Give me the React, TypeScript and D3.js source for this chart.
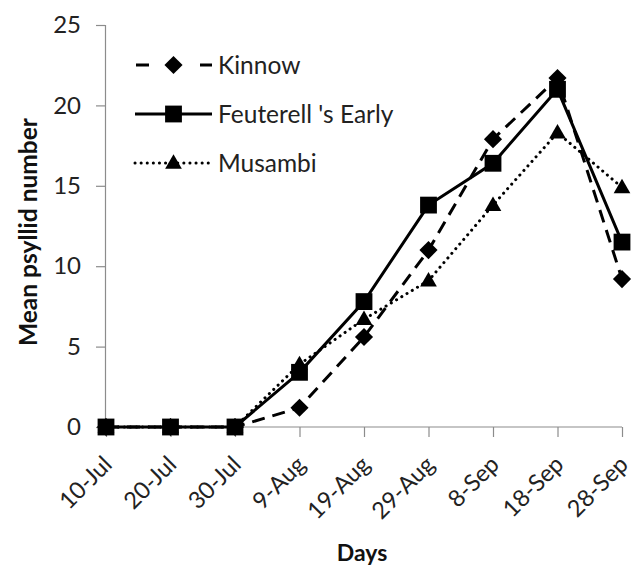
import * as React from "react"
import * as d3 from "d3"

const days = ["10-Jul", "20-Jul", "30-Jul", "9-Aug", "19-Aug", "29-Aug", "8-Sep", "18-Sep", "28-Sep"]
const kinnow = [0, 0, 0, 1.2, 5.6, 11.0, 17.9, 21.7, 9.2]
const feuterell = [0, 0, 0, 3.4, 7.8, 13.8, 16.4, 21.0, 11.5]
const musambi = [0, 0, 0, 3.9, 6.7, 9.1, 13.8, 18.3, 14.9]
const yTicks = [0, 5, 10, 15, 20, 25]

const seriesList = [
  { name: "Kinnow", values: kinnow, dash: "13,8", cap: "butt", symbol: d3.symbolDiamond2, size: 210 },
  { name: "Feuterell 's Early", values: feuterell, dash: null, cap: "butt", symbol: d3.symbolSquare2, size: 360 },
  { name: "Musambi", values: musambi, dash: "0.1,6", cap: "round", symbol: d3.symbolTriangle2, size: 200 },
]

const FONT = "Lato, 'Open Sans', sans-serif"

function render(svgRef: React.RefObject<SVGSVGElement>) {
  const width = 639
  const height = 567
  const margin = { top: 25, right: 17, bottom: 140, left: 106 }
  const w = width - margin.left - margin.right
  const h = height - margin.top - margin.bottom

  const root = d3.select(svgRef.current).attr("width", width).attr("height", height)
  root.selectAll("*").remove()
  const svg = root.append("g").attr("transform", `translate(${margin.left},${margin.top})`)

  const x = d3.scalePoint().domain(days).range([0, w]).padding(0)
  const y = d3.scaleLinear().domain([0, 25]).range([h, 0])

  // y axis
  const yAxis = svg
    .append("g")
    .attr("transform", "translate(-1,0)")
    .call(d3.axisLeft(y).tickValues(yTicks).tickSize(9).tickPadding(15))
  yAxis.select(".domain").attr("stroke", "#8c8c8c").attr("stroke-width", 1.2)
  yAxis.selectAll(".tick line").attr("stroke", "#8c8c8c").attr("stroke-width", 1.2)
  yAxis
    .selectAll(".tick text")
    .attr("font-family", FONT)
    .attr("font-size", "24px")
    .attr("fill", "#222")

  // x axis
  const xAxis = svg
    .append("g")
    .attr("transform", `translate(0,${h})`)
    .call(d3.axisBottom(x).tickSize(10).tickSizeOuter(0))
  xAxis.select(".domain").attr("stroke", "#8c8c8c").attr("stroke-width", 1.2).attr("d", `M-1,0H${w}`)
  xAxis.selectAll(".tick line").attr("stroke", "#8c8c8c").attr("stroke-width", 1.2)
  xAxis
    .selectAll(".tick text")
    .attr("font-family", FONT)
    .attr("font-size", "23.5px")
    .attr("fill", "#222")
    .attr("text-anchor", "end")
    .attr("x", 0)
    .attr("y", 0)
    .attr("dy", "0")
    .attr("transform", "translate(7,39) rotate(-45)")

  // axis titles
  svg
    .append("text")
    .attr("x", w / 2 - 2)
    .attr("y", h + 134)
    .attr("text-anchor", "middle")
    .attr("font-family", FONT)
    .attr("font-weight", "bold")
    .attr("font-size", "23px")
    .attr("fill", "#111")
    .text("Days")

  svg
    .append("text")
    .attr("transform", `translate(${-69},${h / 2 + 6}) rotate(-90)`)
    .attr("text-anchor", "middle")
    .attr("font-family", FONT)
    .attr("font-weight", "bold")
    .attr("font-size", "24.5px")
    .attr("fill", "#111")
    .text("Mean psyllid number")

  const line = d3
    .line<number>()
    .x((_d, i) => x(days[i]) as number)
    .y((d) => y(d))

  seriesList.forEach((s) => {
    svg
      .append("path")
      .datum(s.values)
      .attr("fill", "none")
      .attr("stroke", "#000")
      .attr("stroke-width", 3)
      .attr("stroke-linecap", s.cap)
      .attr("stroke-dasharray", s.dash)
      .attr("d", line)
  })

  seriesList.forEach((s) => {
    svg
      .append("g")
      .selectAll("path")
      .data(s.values)
      .join("path")
      .attr("transform", (d, i) => `translate(${x(days[i])},${y(d) + (s.symbol === d3.symbolTriangle2 ? 1 : 0)})`)
      .attr("d", d3.symbol(s.symbol, s.size))
      .attr("fill", "#000")
  })

  // legend
  const legend = svg.append("g").attr("transform", "translate(30,40)")
  seriesList.forEach((s, i) => {
    const g = legend.append("g").attr("transform", `translate(0,${i * 49})`)
    g.append("line")
      .attr("x1", s.dash === "13,8" ? 0 : -1)
      .attr("x2", 76)
      .attr("y1", 0)
      .attr("y2", 0)
      .attr("stroke", "#000")
      .attr("stroke-width", 3)
      .attr("stroke-linecap", s.cap)
      .attr("stroke-dasharray", s.dash === "13,8" ? "13,51" : s.dash)
    g.append("path")
      .attr("transform", `translate(37.5,${s.symbol === d3.symbolTriangle2 ? 1 : 0})`)
      .attr("d", d3.symbol(s.symbol, s.size))
      .attr("fill", "#000")
    g.append("text")
      .attr("x", 82)
      .attr("y", 0)
      .attr("dy", "0.35em")
      .attr("font-family", FONT)
      .attr("font-size", "24.5px")
      .attr("fill", "#222")
      .text(s.name)
  })
}

export default function App(): React.JSX.Element {
  const svg = React.useRef<SVGSVGElement>(null)

  React.useEffect(() => {
    render(svg)
  }, [])

  return (
    <div style={{ position: "absolute", left: 0, top: 0, background: "#fff" }}>
      <svg ref={svg}></svg>
    </div>
  )
}
